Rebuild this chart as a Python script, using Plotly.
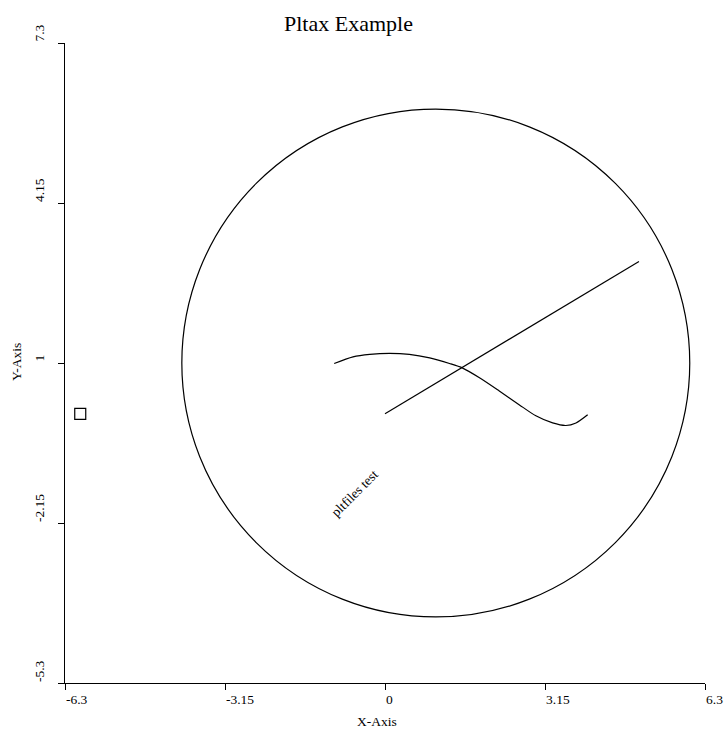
import plotly.graph_objects as go

# ---- data ----
x_ticks = [-6.3, -3.15, 0, 3.15, 6.3]
x_tick_labels = ["-6.3", "-3.15", "0", "3.15", "6.3"]
y_ticks = [-5.3, -2.15, 1, 4.15, 7.3]
y_tick_labels = ["-5.3", "-2.15", "1", "4.15", "7.3"]

circle_center = [1.0, 1.0]
circle_radius = 5.0

line_x = [0, 5]
line_y = [0, 3]

curve_x = [-1.0, -0.63, -0.3, 0.09, 0.48, 0.88, 1.27, 1.53, 1.86, 2.25, 2.64, 2.97, 3.3, 3.56, 3.76, 3.99]
curve_y = [0.99, 1.12, 1.17, 1.19, 1.17, 1.1, 0.99, 0.9, 0.71, 0.45, 0.18, -0.04, -0.18, -0.23, -0.18, -0.02]

marker_x = [-6.0]
marker_y = [0.0]

label_x = [-0.6]
label_y = [-1.57]
label_text = ["pltfiles test"]

title_text = "Pltax Example"
x_title = "X-Axis"
y_title = "Y-Axis"

FONT = "Liberation Serif"
W, H = 725, 736
ML, MR, MT, MB = 65, 20, 43, 53
PW, PH = W - ML - MR, H - MT - MB


def px_to_paper(px, py):
    return (px - ML) / PW, (H - MB - py) / PH


fig = go.Figure()

fig.add_trace(go.Scatter(x=curve_x, y=curve_y, mode="lines",
                         line=dict(color="black", width=1.2, shape="spline", smoothing=0.8),
                         showlegend=False, hoverinfo="skip"))
fig.add_trace(go.Scatter(x=line_x, y=line_y, mode="lines",
                         line=dict(color="black", width=1.2),
                         showlegend=False, hoverinfo="skip"))
fig.add_trace(go.Scatter(x=marker_x, y=marker_y, mode="markers",
                         marker=dict(symbol="square-open", size=11, color="black",
                                     line=dict(width=1.2, color="black")),
                         showlegend=False, hoverinfo="skip"))

fig.add_shape(type="circle", xref="x", yref="y",
              x0=circle_center[0] - circle_radius, x1=circle_center[0] + circle_radius,
              y0=circle_center[1] - circle_radius, y1=circle_center[1] + circle_radius,
              line=dict(color="black", width=1.2))

annotations = []
for v, t in zip(x_ticks, x_tick_labels):
    annotations.append(dict(x=v, xref="x", y=0, yref="paper", text=t, showarrow=False,
                            xanchor="left", yanchor="top", yshift=-8, borderpad=0,
                            font=dict(family=FONT, size=13.5, color="black")))
for v, t in zip(y_ticks, y_tick_labels):
    annotations.append(dict(x=0, xref="paper", y=v, yref="y", text=t, showarrow=False,
                            xanchor="center", yanchor="bottom", xshift=-26, borderpad=0,
                            textangle=-90,
                            font=dict(family=FONT, size=13.5, color="black")))
for x, y, t in zip(label_x, label_y, label_text):
    annotations.append(dict(x=x, xref="x", y=y, yref="y", text=t, showarrow=False,
                            xanchor="center", yanchor="middle", textangle=-45, borderpad=0,
                            font=dict(family=FONT, size=13.5, color="black")))

tx, ty = px_to_paper(348, 23)
annotations.append(dict(x=tx, y=ty, xref="paper", yref="paper", text=title_text,
                        showarrow=False, xanchor="center", yanchor="middle",
                        font=dict(family=FONT, size=22, color="black")))
ax, ay = px_to_paper(377, 721)
annotations.append(dict(x=ax, y=ay, xref="paper", yref="paper", text=x_title,
                        showarrow=False, xanchor="center", yanchor="middle",
                        font=dict(family=FONT, size=13.5, color="black")))
bx, by = px_to_paper(16, 362)
annotations.append(dict(x=bx, y=by, xref="paper", yref="paper", text=y_title,
                        showarrow=False, xanchor="center", yanchor="middle", textangle=-90,
                        font=dict(family=FONT, size=13.5, color="black")))

fig.update_layout(
    width=W, height=H,
    margin=dict(l=ML, r=MR, t=MT, b=MB, autoexpand=False),
    paper_bgcolor="white", plot_bgcolor="white",
    showlegend=False,
    annotations=annotations,
    xaxis=dict(range=[x_ticks[0], x_ticks[-1]], tickvals=x_ticks, showticklabels=False,
               ticks="outside", ticklen=6, tickcolor="black", tickwidth=1,
               showline=True, linecolor="black", linewidth=1,
               showgrid=False, zeroline=False, fixedrange=True),
    yaxis=dict(range=[y_ticks[0], y_ticks[-1]], tickvals=y_ticks, showticklabels=False,
               ticks="outside", ticklen=6, tickcolor="black", tickwidth=1,
               showline=True, linecolor="black", linewidth=1,
               showgrid=False, zeroline=False, fixedrange=True),
)

fig.write_html("out.html", config={"displayModeBar": False},
               post_script="document.body.style.margin='0';document.body.style.overflow='hidden';")
